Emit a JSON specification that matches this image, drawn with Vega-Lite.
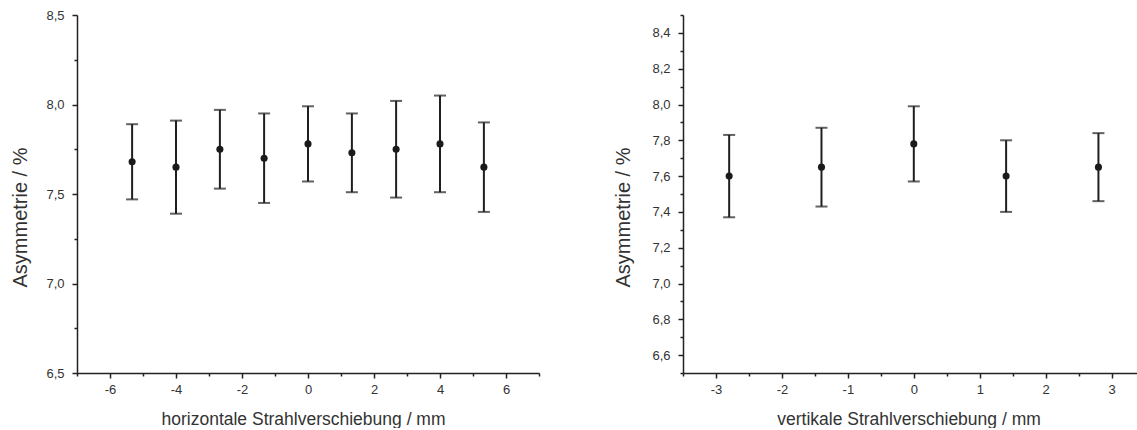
{
  "$schema": "https://vega.github.io/schema/vega-lite/v6.json",
  "padding": {"left": 10, "top": 9, "right": 0, "bottom": 0},
  "background": "white",
  "spacing": 73,
  "config": {
    "view": {"stroke": null},
    "axis": {
      "labelFont": "Liberation Sans",
      "titleFont": "Liberation Sans",
      "labelFontSize": 13,
      "titleFontSize": 17.5,
      "titleFontWeight": "normal",
      "labelColor": "#333333",
      "titleColor": "#333333",
      "domainColor": "#222222",
      "tickColor": "#222222",
      "domainWidth": 1.5,
      "tickWidth": 1.5,
      "grid": false,
      "labelFlush": false,
      "labelOverlap": false
    }
  },
  "hconcat": [
    {
      "width": 462,
      "height": 358,
      "data": {"values": [
        {"shift": -5.33, "asym": 7.68, "low": 7.47, "high": 7.89},
        {"shift": -4.0, "asym": 7.65, "low": 7.39, "high": 7.91},
        {"shift": -2.67, "asym": 7.75, "low": 7.53, "high": 7.97},
        {"shift": -1.33, "asym": 7.70, "low": 7.45, "high": 7.95},
        {"shift": 0.0, "asym": 7.78, "low": 7.57, "high": 7.99},
        {"shift": 1.33, "asym": 7.73, "low": 7.51, "high": 7.95},
        {"shift": 2.67, "asym": 7.75, "low": 7.48, "high": 8.02},
        {"shift": 4.0, "asym": 7.78, "low": 7.51, "high": 8.05},
        {"shift": 5.33, "asym": 7.65, "low": 7.40, "high": 7.90}
      ]},
      "encoding": {
        "x": {
          "field": "shift", "type": "quantitative",
          "scale": {"domain": [-7, 7], "nice": false, "zero": false},
          "axis": {
            "values": [-7, -6, -5, -4, -3, -2, -1, 0, 1, 2, 3, 4, 5, 6, 7],
            "labelExpr": "datum.value % 2 == 0 ? '' + datum.value : ''",
            "tickSize": {"condition": {"test": "datum.value % 2 == 0", "value": 5}, "value": 3},
            "labelPadding": 5,
            "title": "horizontale Strahlverschiebung / mm",
            "titleBaseline": "alphabetic",
            "titleY": 51.5,
            "titleX": 226
          }
        }
      },
      "layer": [
        {
          "mark": {"type": "rule", "color": "#1f1f1f", "strokeWidth": 2},
          "encoding": {
            "y": {
              "field": "low", "type": "quantitative",
              "scale": {"domain": [6.5, 8.5], "nice": false, "zero": false},
              "axis": {
                "values": [6.5, 6.75, 7.0, 7.25, 7.5, 7.75, 8.0, 8.25, 8.5],
                "labelExpr": "round(datum.value*4) % 2 == 0 ? replace(format(datum.value, '.1f'), '.', ',') : ''",
                "tickSize": {"condition": {"test": "round(datum.value*4) % 2 == 0", "value": 5}, "value": 3},
                "labelPadding": 8,
                "title": "Asymmetrie / %",
                "titleFontSize": 20,
                "titleAngle": -90,
                "titleBaseline": "alphabetic",
                "titleX": -51,
                "titleY": 202
              }
            },
            "y2": {"field": "high"}
          }
        },
        {
          "mark": {"type": "tick", "orient": "horizontal", "color": "#1f1f1f", "size": 12, "thickness": 2},
          "encoding": {
            "y": {
              "field": "high", "type": "quantitative",
              "scale": {"domain": [6.5, 8.5], "nice": false, "zero": false},
              "axis": {
                "values": [6.5, 6.75, 7.0, 7.25, 7.5, 7.75, 8.0, 8.25, 8.5],
                "labelExpr": "round(datum.value*4) % 2 == 0 ? replace(format(datum.value, '.1f'), '.', ',') : ''",
                "tickSize": {"condition": {"test": "round(datum.value*4) % 2 == 0", "value": 5}, "value": 3},
                "labelPadding": 8,
                "title": "Asymmetrie / %",
                "titleFontSize": 20,
                "titleAngle": -90,
                "titleBaseline": "alphabetic",
                "titleX": -51,
                "titleY": 202
              }
            }
          }
        },
        {
          "mark": {"type": "tick", "orient": "horizontal", "color": "#1f1f1f", "size": 12, "thickness": 2},
          "encoding": {
            "y": {
              "field": "low", "type": "quantitative",
              "scale": {"domain": [6.5, 8.5], "nice": false, "zero": false},
              "axis": {
                "values": [6.5, 6.75, 7.0, 7.25, 7.5, 7.75, 8.0, 8.25, 8.5],
                "labelExpr": "round(datum.value*4) % 2 == 0 ? replace(format(datum.value, '.1f'), '.', ',') : ''",
                "tickSize": {"condition": {"test": "round(datum.value*4) % 2 == 0", "value": 5}, "value": 3},
                "labelPadding": 8,
                "title": "Asymmetrie / %",
                "titleFontSize": 20,
                "titleAngle": -90,
                "titleBaseline": "alphabetic",
                "titleX": -51,
                "titleY": 202
              }
            }
          }
        },
        {
          "mark": {"type": "point", "filled": true, "color": "#1a1a1a", "size": 50, "opacity": 1},
          "encoding": {
            "y": {
              "field": "asym", "type": "quantitative",
              "scale": {"domain": [6.5, 8.5], "nice": false, "zero": false},
              "axis": {
                "values": [6.5, 6.75, 7.0, 7.25, 7.5, 7.75, 8.0, 8.25, 8.5],
                "labelExpr": "round(datum.value*4) % 2 == 0 ? replace(format(datum.value, '.1f'), '.', ',') : ''",
                "tickSize": {"condition": {"test": "round(datum.value*4) % 2 == 0", "value": 5}, "value": 3},
                "labelPadding": 8,
                "title": "Asymmetrie / %",
                "titleFontSize": 20,
                "titleAngle": -90,
                "titleBaseline": "alphabetic",
                "titleX": -51,
                "titleY": 202
              }
            }
          }
        }
      ]
    },
    {
      "width": 455,
      "height": 358,
      "data": {"values": [
        {"shift": -2.8, "asym": 7.60, "low": 7.37, "high": 7.83},
        {"shift": -1.4, "asym": 7.65, "low": 7.43, "high": 7.87},
        {"shift": 0.0, "asym": 7.78, "low": 7.57, "high": 7.99},
        {"shift": 1.4, "asym": 7.60, "low": 7.40, "high": 7.80},
        {"shift": 2.8, "asym": 7.65, "low": 7.46, "high": 7.84}
      ]},
      "encoding": {
        "x": {
          "field": "shift", "type": "quantitative",
          "scale": {"domain": [-3.5, 3.4], "nice": false, "zero": false},
          "axis": {
            "values": [-3.5, -3, -2.5, -2, -1.5, -1, -0.5, 0, 0.5, 1, 1.5, 2, 2.5, 3],
            "labelExpr": "datum.value % 1 == 0 ? '' + datum.value : ''",
            "tickSize": {"condition": {"test": "datum.value % 1 == 0", "value": 5}, "value": 3},
            "labelPadding": 5,
            "title": "vertikale Strahlverschiebung / mm",
            "titleBaseline": "alphabetic",
            "titleY": 51.5,
            "titleX": 225.5
          }
        }
      },
      "layer": [
        {
          "mark": {"type": "rule", "color": "#1f1f1f", "strokeWidth": 2},
          "encoding": {
            "y": {
              "field": "low", "type": "quantitative",
              "scale": {"domain": [6.5, 8.5], "nice": false, "zero": false},
              "axis": {
                "values": [6.5, 6.6, 6.7, 6.8, 6.9, 7.0, 7.1, 7.2, 7.3, 7.4, 7.5, 7.6, 7.7, 7.8, 7.9, 8.0, 8.1, 8.2, 8.3, 8.4, 8.5],
                "labelExpr": "round(datum.value*10) % 2 == 0 ? replace(format(datum.value, '.1f'), '.', ',') : ''",
                "tickSize": {"condition": {"test": "round(datum.value*10) % 2 == 0", "value": 5}, "value": 3},
                "labelPadding": 8,
                "title": "Asymmetrie / %",
                "titleFontSize": 20,
                "titleAngle": -90,
                "titleBaseline": "alphabetic",
                "titleX": -54,
                "titleY": 202
              }
            },
            "y2": {"field": "high"}
          }
        },
        {
          "mark": {"type": "tick", "orient": "horizontal", "color": "#1f1f1f", "size": 12, "thickness": 2},
          "encoding": {
            "y": {
              "field": "high", "type": "quantitative",
              "scale": {"domain": [6.5, 8.5], "nice": false, "zero": false},
              "axis": {
                "values": [6.5, 6.6, 6.7, 6.8, 6.9, 7.0, 7.1, 7.2, 7.3, 7.4, 7.5, 7.6, 7.7, 7.8, 7.9, 8.0, 8.1, 8.2, 8.3, 8.4, 8.5],
                "labelExpr": "round(datum.value*10) % 2 == 0 ? replace(format(datum.value, '.1f'), '.', ',') : ''",
                "tickSize": {"condition": {"test": "round(datum.value*10) % 2 == 0", "value": 5}, "value": 3},
                "labelPadding": 8,
                "title": "Asymmetrie / %",
                "titleFontSize": 20,
                "titleAngle": -90,
                "titleBaseline": "alphabetic",
                "titleX": -54,
                "titleY": 202
              }
            }
          }
        },
        {
          "mark": {"type": "tick", "orient": "horizontal", "color": "#1f1f1f", "size": 12, "thickness": 2},
          "encoding": {
            "y": {
              "field": "low", "type": "quantitative",
              "scale": {"domain": [6.5, 8.5], "nice": false, "zero": false},
              "axis": {
                "values": [6.5, 6.6, 6.7, 6.8, 6.9, 7.0, 7.1, 7.2, 7.3, 7.4, 7.5, 7.6, 7.7, 7.8, 7.9, 8.0, 8.1, 8.2, 8.3, 8.4, 8.5],
                "labelExpr": "round(datum.value*10) % 2 == 0 ? replace(format(datum.value, '.1f'), '.', ',') : ''",
                "tickSize": {"condition": {"test": "round(datum.value*10) % 2 == 0", "value": 5}, "value": 3},
                "labelPadding": 8,
                "title": "Asymmetrie / %",
                "titleFontSize": 20,
                "titleAngle": -90,
                "titleBaseline": "alphabetic",
                "titleX": -54,
                "titleY": 202
              }
            }
          }
        },
        {
          "mark": {"type": "point", "filled": true, "color": "#1a1a1a", "size": 50, "opacity": 1},
          "encoding": {
            "y": {
              "field": "asym", "type": "quantitative",
              "scale": {"domain": [6.5, 8.5], "nice": false, "zero": false},
              "axis": {
                "values": [6.5, 6.6, 6.7, 6.8, 6.9, 7.0, 7.1, 7.2, 7.3, 7.4, 7.5, 7.6, 7.7, 7.8, 7.9, 8.0, 8.1, 8.2, 8.3, 8.4, 8.5],
                "labelExpr": "round(datum.value*10) % 2 == 0 ? replace(format(datum.value, '.1f'), '.', ',') : ''",
                "tickSize": {"condition": {"test": "round(datum.value*10) % 2 == 0", "value": 5}, "value": 3},
                "labelPadding": 8,
                "title": "Asymmetrie / %",
                "titleFontSize": 20,
                "titleAngle": -90,
                "titleBaseline": "alphabetic",
                "titleX": -54,
                "titleY": 202
              }
            }
          }
        }
      ]
    }
  ]
}
